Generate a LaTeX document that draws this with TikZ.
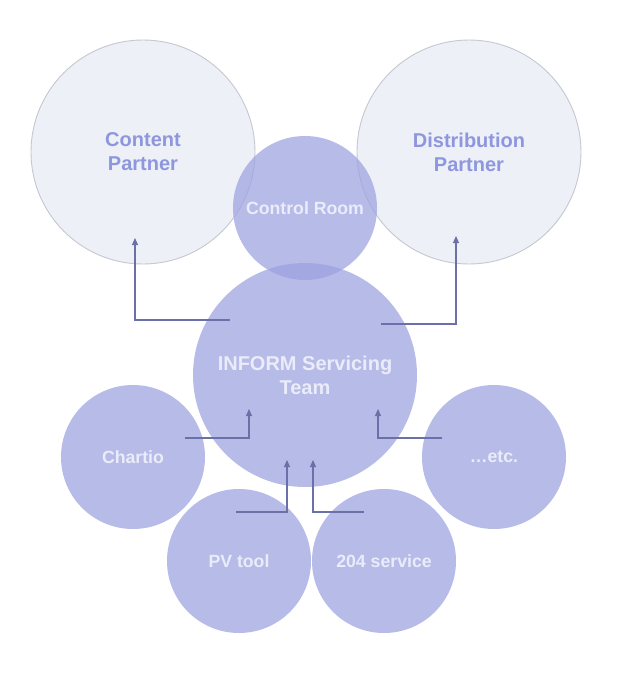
\documentclass[tikz,border=0pt]{standalone}
\usepackage{fontspec}
\setmainfont{Liberation Sans}
\usetikzlibrary{arrows.meta}
\definecolor{partfill}{RGB}{237,240,246}
\definecolor{partdraw}{RGB}{196,200,208}
\definecolor{parttext}{RGB}{142,150,222}
\definecolor{bluefill}{RGB}{156,162,224}
\definecolor{bluetext}{RGB}{234,236,249}
\definecolor{conncol}{RGB}{108,112,168}
\begin{document}
\begin{tikzpicture}[x=1pt,y=-1pt,
  partner/.style={circle,draw=partdraw,line width=0.9pt,fill=partfill,minimum size=224pt,inner sep=0pt,
    text=parttext,font=\fontsize{20}{24}\selectfont\bfseries,align=center},
  bigblue/.style={circle,fill=bluefill,fill opacity=0.72,text opacity=1,minimum size=224pt,inner sep=0pt,
    text=bluetext,font=\fontsize{20}{24}\selectfont\bfseries,align=center},
  smallblue/.style={circle,fill=bluefill,fill opacity=0.72,text opacity=1,minimum size=144pt,inner sep=0pt,
    text=bluetext,font=\fontsize{17.7}{21}\selectfont\bfseries,align=center},
  conn/.style={draw=conncol,line width=1.1pt,-{Triangle[length=7pt,width=6pt]}}]
\useasboundingbox (0,0) rectangle (617,680);
\fill[white] (0,0) rectangle (617,680);
\node[partner] (cp) at (143,152) {Content\\Partner};
\node[partner] (dp) at (469,152) {Distribution\\Partner};
\node[smallblue] (cr) at (305,208) {Control Room};
\node[bigblue] (ist) at (305,375) {INFORM Servicing\\Team};
\node[smallblue] (ch) at (133,457) {Chartio};
\node[smallblue] (etc) at (494,457) {\dots etc.};
\node[smallblue] (pv) at (239,561) {PV tool};
\node[smallblue] (svc) at (384,561) {204 service};
% connector ends
\coordinate (cpS) at (230,320); \coordinate (cpE) at (135,238);
\coordinate (dpS) at (381,324); \coordinate (dpE) at (456,236);
\coordinate (chS) at (185,438); \coordinate (chE) at (249,409);
\coordinate (etS) at (442,438); \coordinate (etE) at (378,409);
\coordinate (pvS) at (236,512); \coordinate (pvE) at (287,460);
\coordinate (svS) at (364,512); \coordinate (svE) at (313,460);
\draw[conn] (cpS) -| (cpE);
\draw[conn] (dpS) -| (dpE);
\draw[conn] (chS) -| (chE);
\draw[conn] (etS) -| (etE);
\draw[conn] (pvS) -| (pvE);
\draw[conn] (svS) -| (svE);
\end{tikzpicture}
\end{document}
